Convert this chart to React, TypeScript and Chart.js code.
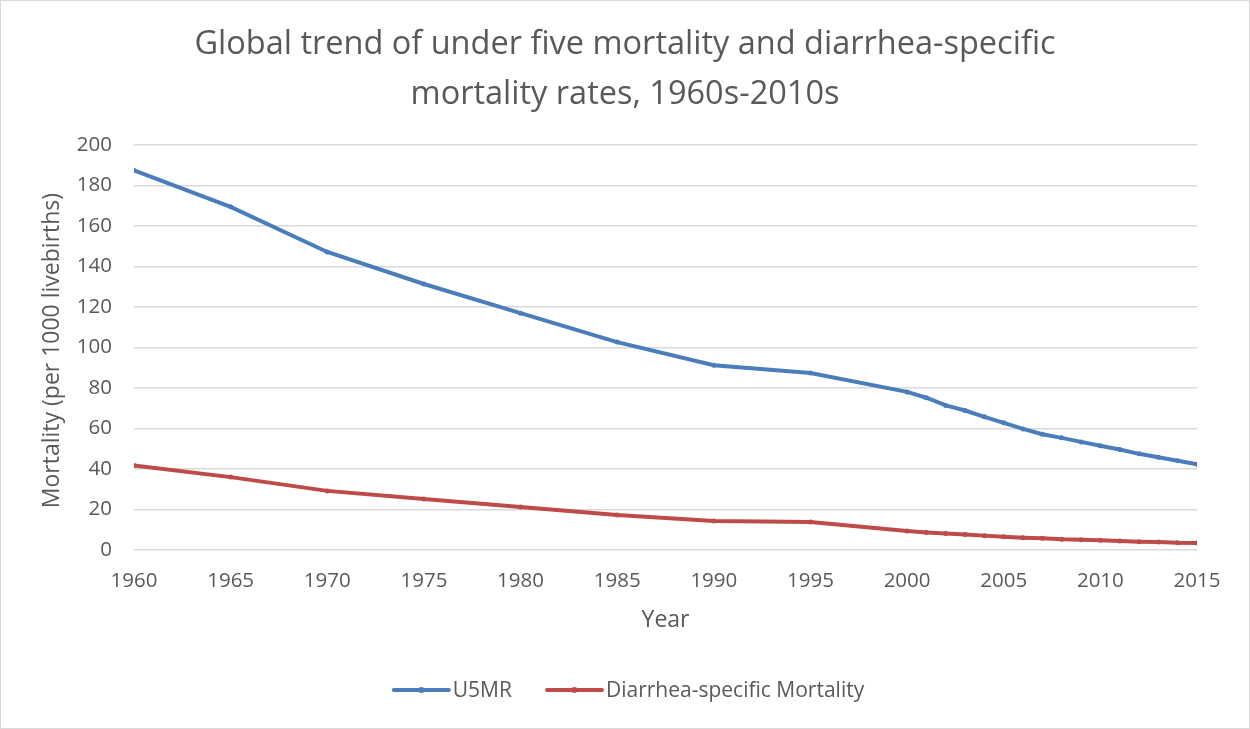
import React, { useEffect, useRef } from "react";
import { Chart, registerables } from "chart.js";

Chart.register(...registerables);

const years = [1960, 1965, 1970, 1975, 1980, 1985, 1990, 1995, 2000, 2001, 2002, 2003, 2004, 2005, 2006, 2007, 2008, 2009, 2010, 2011, 2012, 2013, 2014, 2015];
const u5mr = [187.5, 169.5, 147.2, 131.4, 117.0, 102.7, 91.3, 87.4, 78.1, 75.2, 71.4, 68.9, 65.8, 62.8, 59.8, 57.2, 55.4, 53.4, 51.5, 49.6, 47.5, 45.8, 44.1, 42.4];
const diarrhea = [41.7, 36.0, 29.2, 25.2, 21.2, 17.3, 14.3, 13.8, 9.4, 8.7, 8.1, 7.6, 7.1, 6.5, 6.1, 5.8, 5.3, 5.1, 4.8, 4.4, 4.1, 4.0, 3.6, 3.5];
const seriesNames = ["U5MR", "Diarrhea-specific Mortality"];
const titleLines = ["Global trend of under five mortality and diarrhea-specific", "mortality rates, 1960s-2010s"];
const xTitle = "Year";
const yTitle = "Mortality (per 1000 livebirths)";

const FONT = "'Open Sans', Lato, sans-serif";
const TEXT = "#595959";
const BLUE = "#4a7ebb";
const RED = "#be4b48";
const W = 1248;
const H = 727;

const textPlugin = {
  id: "customText",
  afterDraw(chart: any) {
    const ctx = chart.ctx;
    const area = chart.chartArea;
    ctx.save();
    ctx.fillStyle = TEXT;
    ctx.textAlign = "center";
    ctx.textBaseline = "middle";
    // axis titles
    ctx.font = `23px ${FONT}`;
    ctx.fillText(xTitle, (area.left + area.right) / 2, 619);
    ctx.save();
    ctx.translate(51, (area.top + area.bottom) / 2 + 3);
    ctx.rotate(-Math.PI / 2);
    ctx.fillText(yTitle, 0, 0);
    ctx.restore();
    // legend
    const colors = [BLUE, RED];
    const y = 689;
    ctx.font = `21px ${FONT}`;
    const lineW = 55;
    const gapText = 4;
    const gapItems = 35;
    const widths = seriesNames.map((n) => ctx.measureText(n).width);
    const total = widths.reduce((a, w) => a + lineW + gapText + w, 0) + gapItems;
    let x = W / 2 + 4 - total / 2;
    seriesNames.forEach((name, i) => {
      ctx.strokeStyle = colors[i];
      ctx.lineWidth = 4;
      ctx.lineCap = "round";
      ctx.beginPath();
      ctx.moveTo(x, y);
      ctx.lineTo(x + lineW, y);
      ctx.stroke();
      ctx.fillStyle = colors[i];
      ctx.beginPath();
      ctx.arc(x + lineW / 2, y, 3, 0, Math.PI * 2);
      ctx.fill();
      ctx.fillStyle = TEXT;
      ctx.textAlign = "left";
      ctx.fillText(name, x + lineW + gapText, y + 1);
      x += lineW + gapText + widths[i] + gapItems;
    });
    ctx.restore();
  },
};

export default function App() {
  const ref = useRef<HTMLCanvasElement | null>(null);
  useEffect(() => {
    if (!ref.current) return;
    const chart = new Chart(ref.current, {
      type: "line",
      data: {
        labels: years,
        datasets: [
          {
            label: seriesNames[0],
            data: years.map((y, i) => ({ x: y, y: u5mr[i] })),
            borderColor: BLUE,
            backgroundColor: BLUE,
            borderWidth: 4,
            pointRadius: 2.5,
            pointBorderWidth: 0,
            pointBackgroundColor: BLUE,
          },
          {
            label: seriesNames[1],
            data: years.map((y, i) => ({ x: y, y: diarrhea[i] })),
            borderColor: RED,
            backgroundColor: RED,
            borderWidth: 4,
            pointRadius: 2.5,
            pointBorderWidth: 0,
            pointBackgroundColor: RED,
          },
        ],
      },
      options: {
        animation: false,
        responsive: false,
        maintainAspectRatio: false,
        layout: { padding: { left: 52, right: 52, top: 19, bottom: 0 } },
        plugins: {
          legend: { display: false },
          tooltip: { enabled: false },
          title: {
            display: true,
            text: titleLines,
            color: TEXT,
            font: { family: FONT, size: 32.5, weight: "normal", lineHeight: 1.54 },
            padding: { top: 0, bottom: 25 },
          },
        },
        scales: {
          x: {
            type: "linear",
            min: 1960,
            max: 2015,
            grid: { display: false, drawTicks: false },
            border: { display: false },
            afterFit: (s: any) => {
              s.height = 178;
            },
            ticks: {
              stepSize: 5,
              color: TEXT,
              font: { family: FONT, size: 20.5 },
              padding: 19,
              callback: (v: any) => String(v),
              maxRotation: 0,
            },
          },
          y: {
            min: 0,
            max: 200,
            grid: { color: "#d9d9d9", lineWidth: 1.5, drawTicks: false },
            border: { display: false },
            afterFit: (s: any) => {
              s.width = 81;
            },
            ticks: {
              stepSize: 20,
              color: TEXT,
              font: { family: FONT, size: 20.5 },
              padding: 22,
            },
          },
        },
      },
      plugins: [textPlugin],
    });
    return () => chart.destroy();
  }, []);
  return (
    <div
      style={{
        position: "absolute",
        left: 0,
        top: 0,
        width: W,
        height: H,
        border: "1px solid #d9d9d9",
        background: "#fff",
      }}
    >
      <canvas ref={ref} width={W} height={H} style={{ display: "block" }} />
    </div>
  );
}
